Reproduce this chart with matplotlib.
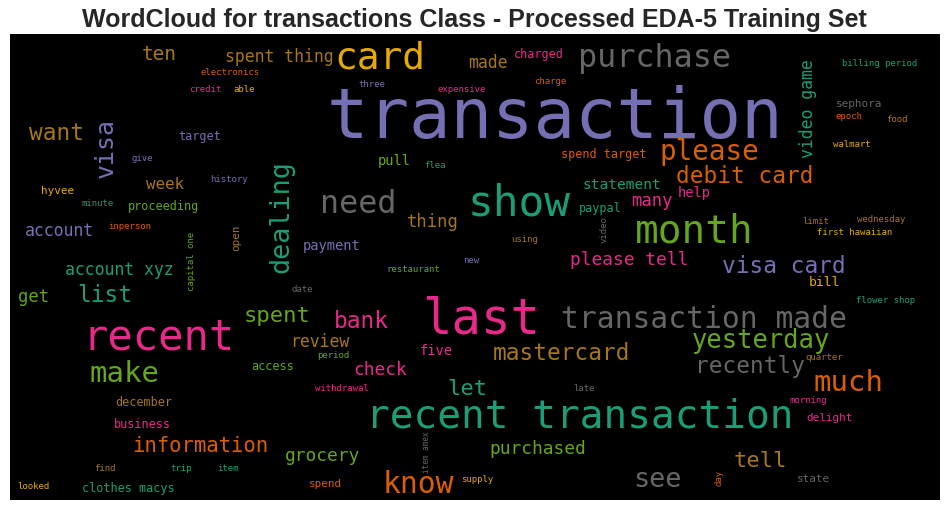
import matplotlib
matplotlib.use("Agg")
import matplotlib.pyplot as plt

# word cloud content: words and their relative frequency (1.0 = most frequent)
WORDS = [
    "transaction", "last", "recent", "show", "recent transaction", "month",
    "card", "purchase", "need", "transaction made", "much", "know", "make",
    "please", "dealing", "see", "yesterday", "visa", "visa card", "recently",
    "debit card", "want", "bank", "mastercard", "list", "tell", "spent", "let",
    "information", "ten", "grocery", "purchased", "please tell", "check", "get",
    "thing", "many", "review", "made", "account xyz", "account", "spent thing",
    "video game", "week", "statement", "payment", "five", "pull", "help", "bill",
    "proceeding", "december", "business", "clothes macys", "spend target",
    "charged", "target", "access", "paypal", "hyvee", "spend", "open", "sephora",
    "delight", "state",
    "electronics", "credit", "able", "give", "history", "minute", "inperson",
    "capital one", "date", "three", "expensive", "charge", "flea", "new", "using",
    "restaurant", "video", "billing period", "epoch", "food", "walmart", "limit",
    "wednesday", "first hawaiian", "flower shop", "quarter", "morning", "day",
    "late", "withdrawal", "period", "supply", "item amex", "find", "trip", "item",
    "looked",
]
FREQ = [
    1.00, 0.71, 0.61, 0.62, 0.57, 0.57,
    0.55, 0.46, 0.46, 0.43, 0.42, 0.43, 0.42,
    0.40, 0.39, 0.39, 0.37, 0.36, 0.33, 0.33,
    0.33, 0.33, 0.33, 0.33, 0.33, 0.32, 0.32, 0.32,
    0.30, 0.28, 0.26, 0.26, 0.26, 0.26, 0.25,
    0.25, 0.25, 0.24, 0.24, 0.24, 0.24, 0.24,
    0.24, 0.23, 0.21, 0.20, 0.20, 0.20, 0.20, 0.19,
    0.17, 0.17, 0.17, 0.17, 0.17,
    0.17, 0.17, 0.17, 0.17, 0.16, 0.16, 0.16, 0.16,
    0.16, 0.16,
    0.13, 0.13, 0.13, 0.13, 0.13, 0.13, 0.13,
    0.13, 0.13, 0.13, 0.13, 0.13, 0.13, 0.13, 0.13,
    0.13, 0.13, 0.13, 0.13, 0.13, 0.13, 0.13,
    0.13, 0.13, 0.13, 0.13, 0.13, 0.13,
    0.13, 0.13, 0.13, 0.13, 0.11, 0.13, 0.13, 0.13,
    0.13,
]
# Dark2 palette index per word
COLOR_IDX = [
    2, 3, 3, 0, 0, 4,
    5, 7, 7, 7, 1, 1, 4,
    1, 0, 7, 4, 2, 2, 7,
    1, 6, 3, 6, 0, 6, 4, 0,
    1, 6, 4, 4, 3, 3, 4,
    6, 3, 6, 6, 0, 2, 6,
    0, 6, 0, 2, 3, 4, 3, 5,
    4, 6, 3, 0, 1,
    3, 2, 4, 0, 5, 1, 6, 7,
    3, 7,
    1, 3, 5, 2, 2, 0, 1,
    4, 7, 2, 3, 1, 0, 2, 6,
    4, 7, 0, 1, 6, 5, 6,
    6, 5, 0, 6, 3, 1,
    7, 3, 4, 5, 7, 6, 0, 0,
    5,
]
DARK2 = ["#1b9e77", "#d95f02", "#7570b3", "#e7298a",
         "#66a61e", "#e6ab02", "#a6761d", "#666666"]

# placement on the canvas: (x centre, baseline / centre y, vertical?)
LAYOUT = [
    (555, 138, 0), (481, 333, 0), (159, 349, 0), (519, 215, 0), (580, 427, 0), (694, 242, 0),
    (380, 68, 0), (654, 67, 0), (358, 213, 0), (704, 328, 0), (848, 391, 0), (418, 493, 0), (124, 382, 0),
    (709, 160, 0), (281, 217, 1), (657, 487, 0), (761, 348, 0), (106, 148, 1), (784, 273, 0), (750, 373, 0),
    (745, 183, 0), (56, 140, 0), (361, 328, 0), (561, 360, 0), (105, 302, 0), (760, 467, 0), (277, 322, 0), (467, 395, 0),
    (200, 452, 0), (159, 60, 0), (322, 461, 0), (538, 454, 0), (629, 265, 0), (380, 375, 0), (34, 302, 0),
    (433, 227, 0), (652, 206, 0), (320, 347, 0), (488, 68, 0), (119, 275, 0), (59, 236, 0), (279, 62, 0),
    (808, 109, 1), (165, 189, 0), (622, 189, 0), (332, 250, 0), (436, 355, 0), (394, 165, 0), (694, 197, 0), (824, 286, 0),
    (163, 210, 0), (144, 406, 0), (142, 428, 0), (128, 492, 0), (604, 158, 0),
    (539, 58, 0), (200, 140, 0), (273, 370, 0), (600, 212, 0), (58, 194, 0), (325, 487, 0), (236, 238, 1), (859, 107, 0),
    (830, 421, 0), (813, 482, 0),
    (230, 75, 0), (205, 92, 0), (244, 92, 0), (142, 161, 0), (229, 182, 0), (98, 206, 0), (130, 229, 0),
    (191, 261, 1), (302, 292, 0), (372, 87, 0), (462, 92, 0), (550, 84, 0), (435, 168, 0), (471, 263, 0), (525, 242, 0),
    (413, 272, 0), (604, 230, 1), (880, 66, 0), (849, 119, 0), (897, 122, 0), (852, 147, 0), (816, 224, 0),
    (881, 222, 0), (855, 235, 0), (886, 303, 0), (824, 360, 0), (808, 403, 0), (719, 478, 1),
    (584, 391, 0), (342, 391, 0), (333, 358, 0), (477, 482, 0), (426, 452, 1), (105, 471, 0), (181, 471, 0), (228, 471, 0),
    (33, 489, 0),
]

MAX_EM_PX = 69.0
TITLE = "WordCloud for transactions Class - Processed EDA-5 Training Set"


def main() -> None:
    fig = plt.figure(figsize=(9.5, 5.11), dpi=100)
    fig.patch.set_facecolor("white")
    ax = fig.add_axes([10 / 950, 11 / 511, 930 / 950, 466 / 511])
    ax.set_facecolor("black")
    ax.set_xlim(10, 940)
    ax.set_ylim(500, 34)
    ax.set_xticks([])
    ax.set_yticks([])
    for s in ax.spines.values():
        s.set_visible(False)

    for word, f, ci, (x, y, vert) in zip(WORDS, FREQ, COLOR_IDX, LAYOUT):
        size = f * MAX_EM_PX * 0.72
        if vert:
            ax.text(x, y, word, fontsize=size, color=DARK2[ci], rotation=90,
                    ha="center", va="center", family="DejaVu Sans Mono")
        else:
            ax.text(x, y, word, fontsize=size, color=DARK2[ci],
                    ha="center", va="baseline", family="DejaVu Sans Mono")

    fig.text(474 / 950, 1 - 27 / 511, TITLE, ha="center", va="baseline",
             fontsize=18, fontweight="bold", color="#262626",
             family="Liberation Sans")
    fig.savefig("out.png", dpi=100)
    plt.close(fig)


if __name__ == "__main__":
    main()
